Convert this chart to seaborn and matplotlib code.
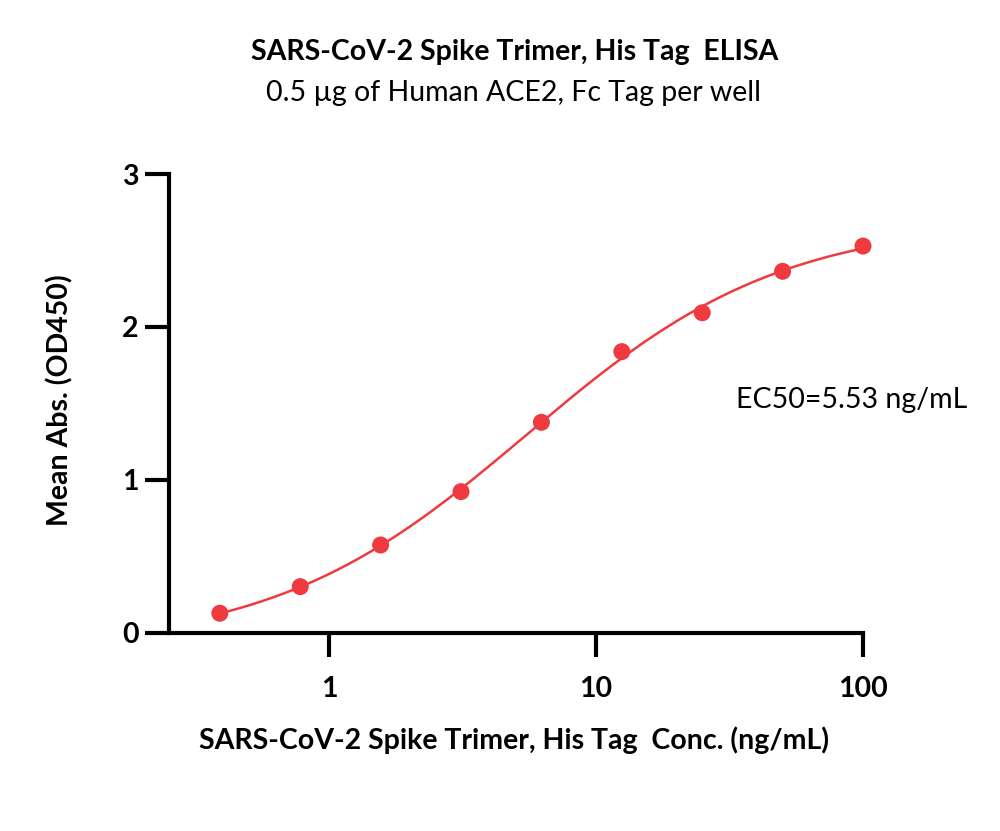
import numpy as np
import pandas as pd
import matplotlib
matplotlib.use("Agg")
import matplotlib.pyplot as plt
import seaborn as sns

# Data
conc = [0.390625, 0.78125, 1.5625, 3.125, 6.25, 12.5, 25, 50, 100]
od450 = [0.129, 0.303, 0.575, 0.924, 1.377, 1.839, 2.093, 2.364, 2.529]
ec50 = 5.53
x_ticks = [1, 10, 100]
y_ticks = [0, 1, 2, 3]

title = "SARS-CoV-2 Spike Trimer, His Tag  ELISA"
subtitle = "0.5 \u00b5g of Human ACE2, Fc Tag per well"
xlabel = "SARS-CoV-2 Spike Trimer, His Tag  Conc. (ng/mL)"
ylabel = "Mean Abs. (OD450)"
ec50_text = "EC50=5.53 ng/mL"

color = "#EF3A3F"
fs = 20.5

sns.set_theme(style="white")
plt.rcParams['font.family'] = ['Lato', 'DejaVu Sans']

# 4PL fit with EC50 fixed (linear LS for bottom/top, grid over hill)
x = np.array(conc)
y = np.array(od450)
best = None
for h in np.linspace(0.5, 2.0, 301):
    f = 1.0 / (1.0 + (ec50 / x) ** h)
    A = np.vstack([1 - f, f]).T
    coef, res, *_ = np.linalg.lstsq(A, y, rcond=None)
    err = np.sum((A @ coef - y) ** 2)
    if best is None or err < best[0]:
        best = (err, h, coef)
_, hill, (bottom, top) = best
xs = np.logspace(np.log10(conc[0]), np.log10(conc[-1]), 300)
ys = bottom + (top - bottom) / (1.0 + (ec50 / xs) ** hill)

pts = pd.DataFrame({"conc": conc, "od": od450})
curve = pd.DataFrame({"conc": xs, "od": ys})

fig = plt.figure(figsize=(10, 8.31), dpi=100)
ax = fig.add_axes([0.169, 0.2383, 0.694, 0.5523])

sns.lineplot(data=curve, x="conc", y="od", ax=ax, color=color, lw=1.8)
sns.scatterplot(data=pts, x="conc", y="od", ax=ax, color=color, s=150,
                edgecolor="none", zorder=5, clip_on=False)

ax.set_xscale("log")
ax.set_xlim(0.252, 100)
ax.set_ylim(0, 3)
ax.set_xticks(x_ticks)
ax.set_xticklabels([str(t) for t in x_ticks])
ax.set_xticks([], minor=True)
ax.set_yticks(y_ticks)
ax.set_yticklabels([str(t) for t in y_ticks])

for s in ["top", "right"]:
    ax.spines[s].set_visible(False)
for s in ["left", "bottom"]:
    ax.spines[s].set_color("black")
    ax.spines[s].set_linewidth(3)
ax.tick_params(axis="both", which="major", direction="out", length=17, width=3,
               color="black", labelsize=fs, bottom=True, left=True)
ax.tick_params(axis="y", pad=5)
ax.tick_params(axis="x", pad=14)
for lab in ax.get_xticklabels() + ax.get_yticklabels():
    lab.set_fontweight("bold")
    lab.set_color("black")

ax.set_xlabel("")
ax.set_ylabel("")
fig.text(0.514, 0.1095, xlabel, ha="center", va="center", fontsize=fs,
         fontweight="bold", color="black")
fig.text(0.060, 0.519, ylabel, ha="center", va="center", rotation=90,
         fontsize=fs, fontweight="bold", color="black")

fig.text(0.515, 0.9374, title, ha="center", va="center", fontsize=fs,
         fontweight="bold", color="black")
fig.text(0.513, 0.888, subtitle, ha="center", va="center", fontsize=fs,
         color="black")
fig.text(0.852, 0.519, ec50_text, ha="center", va="center", fontsize=fs,
         color="black")

fig.savefig("out.png", dpi=100, facecolor="white")
